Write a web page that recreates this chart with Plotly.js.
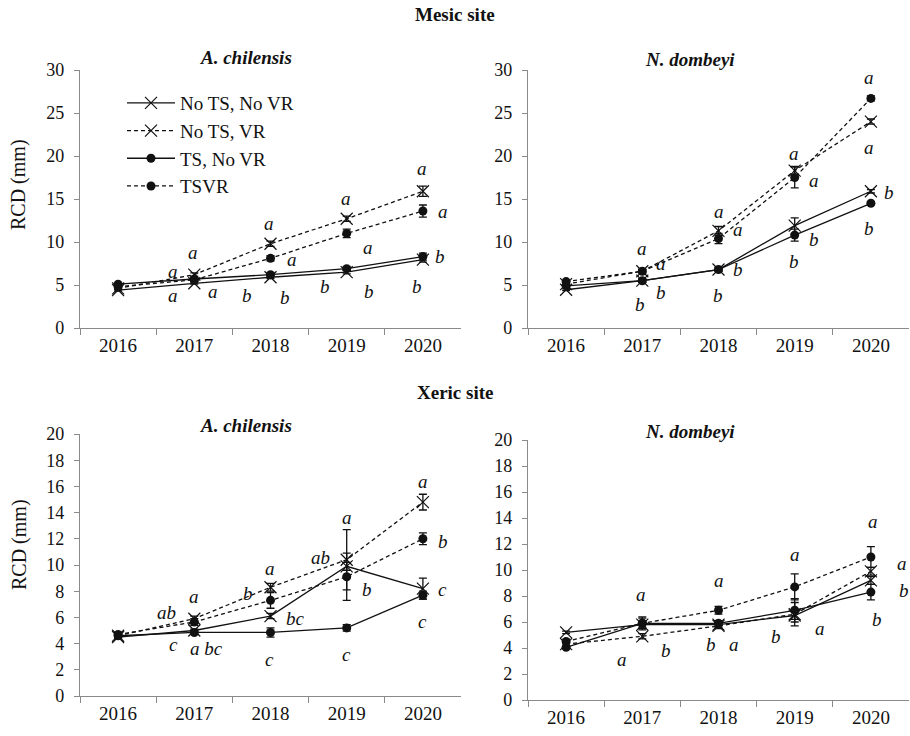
<!DOCTYPE html>
<html><head><meta charset="utf-8">
<script src="https://cdn.plot.ly/plotly-3.0.1.min.js"></script>
</head><body style="margin:0">
<div id="chart" style="width:910px;height:736px"></div>
<div style="font-family:'Liberation Serif';font-size:20px;color:#fff">RCD (mm) 2016 <b>Mesic site</b> <i>ab</i> <b><i>A. chilensis</i></b></div>
<script>
// ---------- DATA ----------
const years = ['2016','2017','2018','2019','2020'];
const seriesNames = ['No TS, No VR','No TS, VR','TS, No VR','TSVR'];

// Mesic site, A. chilensis
const mesicAchil_noTSnoVR = [4.4, 5.2, 5.9, 6.5, 7.95];
const mesicAchil_noTSVR   = [4.6, 6.2, 9.8, 12.7, 15.9];
const mesicAchil_TSnoVR   = [5.1, 5.7, 6.2, 6.9, 8.3];
const mesicAchil_TSVR     = [4.8, 5.6, 8.1, 11.0, 13.6];
const mesicAchil_err_noTSnoVR = [0.1, 0.1, 0.15, 0.2, 0.3];
const mesicAchil_err_noTSVR   = [0.1, 0.2, 0.3, 0.3, 0.6];
const mesicAchil_err_TSnoVR   = [0.1, 0.15, 0.2, 0.2, 0.4];
const mesicAchil_err_TSVR     = [0.1, 0.2, 0.3, 0.5, 0.7];

// Mesic site, N. dombeyi
const mesicNdomb_noTSnoVR = [4.45, 5.5, 6.8, 11.9, 15.9];
const mesicNdomb_noTSVR   = [5.1, 6.6, 11.3, 18.3, 24.0];
const mesicNdomb_TSnoVR   = [4.9, 5.5, 6.8, 10.8, 14.5];
const mesicNdomb_TSVR     = [5.4, 6.6, 10.4, 17.5, 26.7];
const mesicNdomb_err_noTSnoVR = [0.1, 0.2, 0.2, 0.9, 0.2];
const mesicNdomb_err_noTSVR   = [0.1, 0.2, 0.5, 0.5, 0.3];
const mesicNdomb_err_TSnoVR   = [0.1, 0.2, 0.2, 0.7, 0.2];
const mesicNdomb_err_TSVR     = [0.1, 0.2, 0.6, 1.2, 0.3];

// Xeric site, A. chilensis
const xericAchil_noTSnoVR = [4.5, 5.0, 6.1, 9.9, 8.2];
const xericAchil_noTSVR   = [4.6, 5.9, 8.3, 10.4, 14.8];
const xericAchil_TSnoVR   = [4.6, 4.85, 4.85, 5.2, 7.7];
const xericAchil_TSVR     = [4.7, 5.65, 7.3, 9.1, 12.0];
const xericAchil_err_noTSnoVR = [0.1, 0.1, 0.2, 0.3, 0.8];
const xericAchil_err_noTSVR   = [0.1, 0.2, 0.3, 2.3, 0.6];
const xericAchil_err_TSnoVR   = [0.1, 0.15, 0.35, 0.25, 0.3];
const xericAchil_err_TSVR     = [0.1, 0.25, 0.6, 1.8, 0.45];

// Xeric site, N. dombeyi
const xericNdomb_noTSnoVR = [5.2, 5.8, 5.8, 6.5, 9.2];
const xericNdomb_noTSVR   = [4.3, 4.9, 5.7, 6.6, 9.9];
const xericNdomb_TSnoVR   = [4.05, 5.9, 5.9, 6.9, 8.3];
const xericNdomb_TSVR     = [4.5, 5.9, 6.9, 8.7, 11.0];
const xericNdomb_err_noTSnoVR = [0.1, 0.2, 0.2, 0.3, 0.3];
const xericNdomb_err_noTSVR   = [0.1, 0.2, 0.2, 0.9, 0.3];
const xericNdomb_err_TSnoVR   = [0.1, 0.5, 0.2, 0.9, 0.6];
const xericNdomb_err_TSVR     = [0.1, 0.4, 0.3, 1.0, 0.8];

// Significance letters: [text, category position, value]
const lettersMesicAchil = [
  ['a',0.72,6.6],['a',0.98,8.8],['a',0.72,3.8],['a',1.25,4.2],
  ['a',1.98,12.2],['a',2.28,8.0],['b',1.69,3.8],['b',2.19,3.6],
  ['a',2.99,15.1],['a',3.28,9.4],['b',2.72,4.8],['b',3.29,4.2],
  ['a',3.99,18.5],['a',4.27,13.5],['b',4.23,8.3],['b',3.92,4.8]
];
const lettersMesicNdomb = [
  ['a',0.99,9.2],['a',1.25,7.5],['b',1.25,4.1],['b',0.97,2.7],
  ['a',2.0,13.5],['a',2.26,11.4],['b',2.26,6.8],['b',1.99,3.8],
  ['a',2.99,20.3],['a',3.25,17.2],['b',3.25,10.3],['b',2.99,7.7],
  ['a',3.98,29.1],['a',3.98,21.0],['b',4.24,15.7],['b',3.98,11.6]
];
const lettersXericAchil = [
  ['ab',0.63,6.4],['a',0.99,7.6],['c',0.73,3.9],['a bc',1.16,3.6],
  ['a',1.99,9.7],['b',1.71,7.8],['bc',2.33,5.9],['c',1.99,2.8],
  ['a',3.0,13.6],['ab',2.65,10.6],['b',3.26,8.1],['c',3.0,3.2],
  ['a',4.0,16.4],['b',4.26,11.8],['c',4.26,8.1],['c',4.0,5.7]
];
const lettersXericNdomb = [
  ['a',0.98,8.1],['a',0.74,3.1],['b',1.31,3.8],
  ['a',2.0,9.2],['b',1.9,4.3],['a',2.2,4.3],
  ['a',3.0,11.2],['b',2.75,4.9],['a',3.33,5.5],
  ['a',4.03,13.7],['a',4.41,10.5],['b',4.43,8.4],['b',4.08,6.2]
];

// ---------- STYLE ----------
const FONT = 'Liberation Serif';
const INK = '#111';
const AXC = '#8a8a8a';
const seriesStyle = [
  {dash:'solid', symbol:'x-thin-open', size:12},
  {dash:'4px,3px', symbol:'x-thin-open', size:12},
  {dash:'solid', symbol:'circle', size:9},
  {dash:'4px,3px', symbol:'circle', size:9}
];

function makeTraces(vals, errs, xa, ya, showLegend){
  return vals.map((v,i)=>{
    const st = seriesStyle[i];
    const isX = st.symbol.startsWith('x');
    return {
      type:'scatter', mode:'lines+markers',
      x: years, y: v, name: seriesNames[i],
      xaxis: xa, yaxis: ya, showlegend: showLegend,
      line:{color:INK, width:1.3, dash:st.dash},
      marker:{symbol:st.symbol, size:st.size, color:INK,
              line:{color: isX ? '#333' : INK, width: isX ? 1.2 : 0}},
      error_y:{type:'data', array:errs[i], visible:true, color:INK, thickness:1.3, width:4},
      cliponaxis:false, hoverinfo:'skip'
    };
  });
}

const traces = [
  ...makeTraces([mesicAchil_noTSnoVR, mesicAchil_noTSVR, mesicAchil_TSnoVR, mesicAchil_TSVR],
                [mesicAchil_err_noTSnoVR, mesicAchil_err_noTSVR, mesicAchil_err_TSnoVR, mesicAchil_err_TSVR], 'x','y', true),
  ...makeTraces([mesicNdomb_noTSnoVR, mesicNdomb_noTSVR, mesicNdomb_TSnoVR, mesicNdomb_TSVR],
                [mesicNdomb_err_noTSnoVR, mesicNdomb_err_noTSVR, mesicNdomb_err_TSnoVR, mesicNdomb_err_TSVR], 'x2','y2', false),
  ...makeTraces([xericAchil_noTSnoVR, xericAchil_noTSVR, xericAchil_TSnoVR, xericAchil_TSVR],
                [xericAchil_err_noTSnoVR, xericAchil_err_noTSVR, xericAchil_err_TSnoVR, xericAchil_err_TSVR], 'x3','y3', false),
  ...makeTraces([xericNdomb_noTSnoVR, xericNdomb_noTSVR, xericNdomb_TSnoVR, xericNdomb_TSVR],
                [xericNdomb_err_noTSnoVR, xericNdomb_err_noTSVR, xericNdomb_err_TSnoVR, xericNdomb_err_TSVR], 'x4','y4', false)
];

function xAxis(domain, anchor){
  return {domain, anchor, type:'category', range:[-0.5,4.5], tickson:'boundaries',
    ticks:'outside', ticklen:6, tickcolor:AXC, tickwidth:1.2, showline:true, linecolor:AXC, linewidth:1.3,
    showgrid:false, zeroline:false, fixedrange:true,
    tickfont:{family:FONT, size:19}};
}
function yAxis(domain, anchor, max, dtick){
  return {domain, anchor, range:[0,max], dtick, ticks:'outside', ticklen:5, tickcolor:AXC, tickwidth:1.2,
    showline:true, linecolor:AXC, linewidth:1.3, showgrid:false, zeroline:false, fixedrange:true,
    ticklabelstandoff:6, tickfont:{family:FONT, size:18}};
}

const W = 910, H = 736;
const px = v => v/W, py = v => 1 - v/H;

const annotations = [];
function addLetters(list, xr, yr){
  list.forEach(([t,xi,yv])=>annotations.push({text:'<i>'+t+'</i>', x:xi, y:yv, xref:xr, yref:yr, showarrow:false,
    font:{family:FONT, size:19}}));
}
addLetters(lettersMesicAchil,'x','y');
addLetters(lettersMesicNdomb,'x2','y2');
addLetters(lettersXericAchil,'x3','y3');
addLetters(lettersXericNdomb,'x4','y4');

function paperText(t, x, y, size, angle){
  annotations.push({text:t, x:px(x), y:py(y), xref:'paper', yref:'paper', showarrow:false,
    xanchor:'center', yanchor:'middle', textangle:angle||0,
    font:{family:FONT, size}});
}
paperText('<b>Mesic site</b>', 455, 15, 19);
paperText('<b>Xeric site</b>', 455, 392, 19);
paperText('<b><i>A. chilensis</i></b>', 246, 57, 19);
paperText('<b><i>N. dombeyi</i></b>', 690, 59, 19);
paperText('<b><i>A. chilensis</i></b>', 246, 425, 19);
paperText('<b><i>N. dombeyi</i></b>', 690, 431, 19);
paperText('RCD (mm)', 19, 185, 20, -90);
paperText('RCD (mm)', 19, 545, 20, -90);

const layout = {
  width:W, height:H, margin:{l:0,r:0,t:0,b:0},
  font:{family:FONT, color:INK},
  showlegend:true,
  legend:{x:px(122), y:py(84), xanchor:'left', yanchor:'top', bgcolor:'rgba(0,0,0,0)',
    font:{family:FONT, size:19}, itemwidth:48, tracegroupgap:0, traceorder:'normal'},
  xaxis: xAxis([px(80), px(461)], 'y'),
  yaxis: yAxis([py(328), py(70)], 'x', 30, 5),
  xaxis2: xAxis([px(528), px(909)], 'y2'),
  yaxis2: yAxis([py(328), py(70)], 'x2', 30, 5),
  xaxis3: xAxis([px(80), px(461)], 'y3'),
  yaxis3: yAxis([py(696), py(434)], 'x3', 20, 2),
  xaxis4: xAxis([px(528), px(909)], 'y4'),
  yaxis4: yAxis([py(700), py(440)], 'x4', 20, 2),
  annotations
};

Plotly.newPlot('chart', traces, layout, {displayModeBar:false});
</script></body></html>
